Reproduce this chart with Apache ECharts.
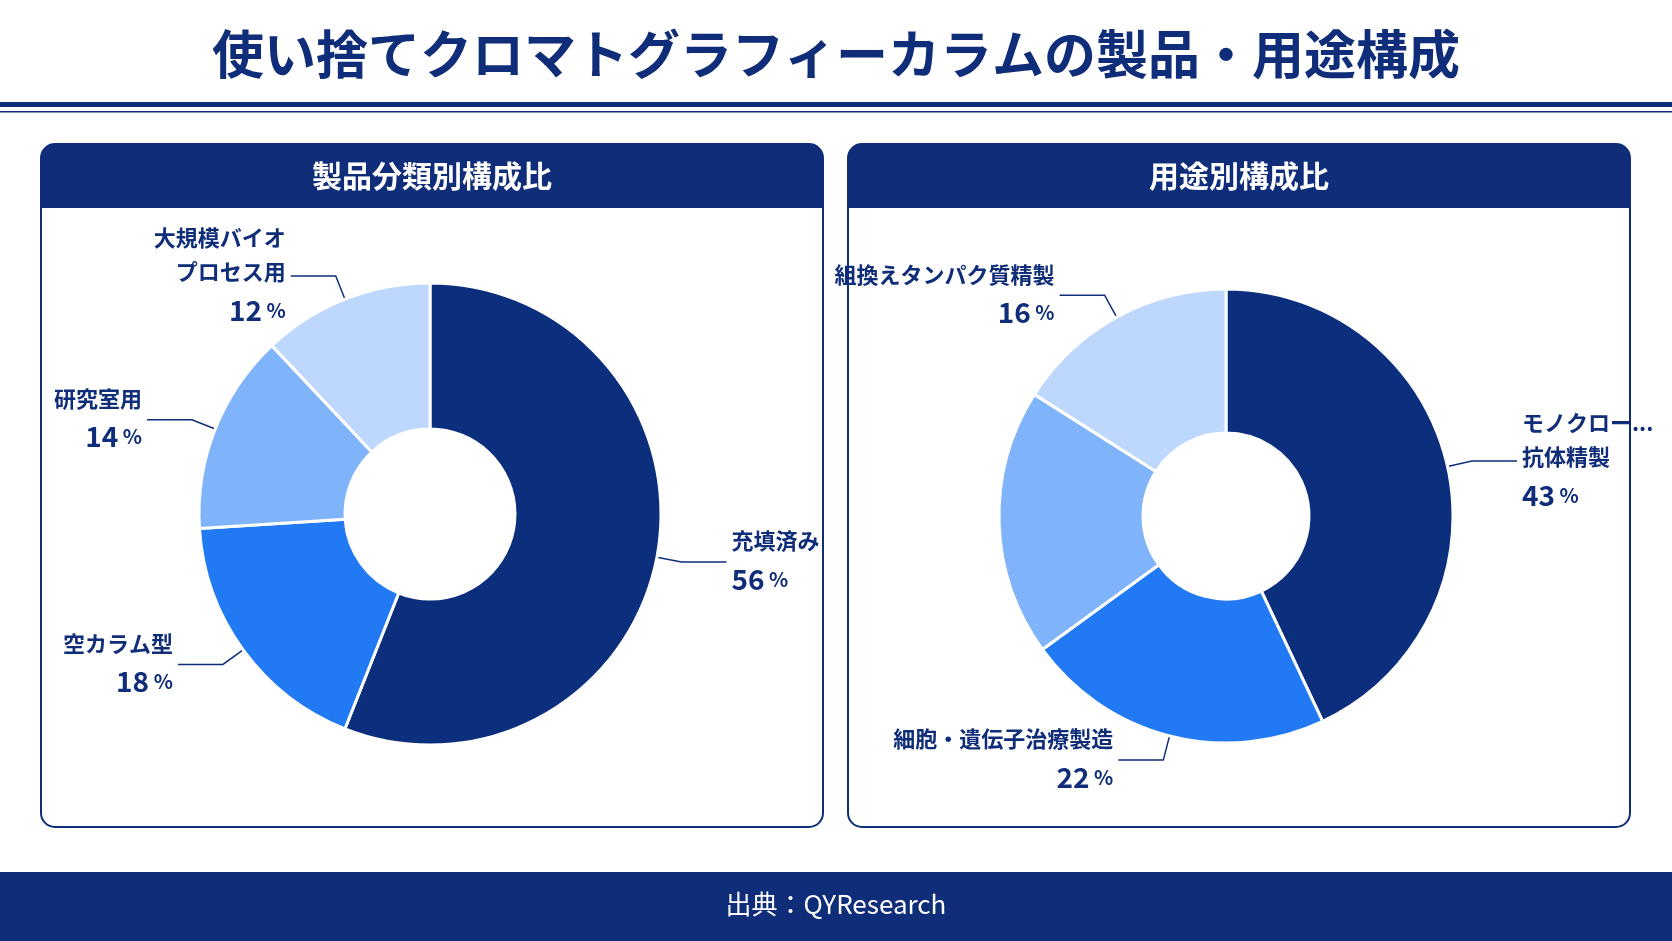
<!DOCTYPE html>
<html><head><meta charset="utf-8">
<script src="https://cdn.jsdelivr.net/npm/echarts@6/dist/echarts.min.js"></script>
<style>html,body{margin:0;padding:0;background:#fff}#c{width:1672px;height:941px}</style>
</head><body><div id="c"></div>
<script>
var productNames = ['充填済み', '空カラム型', '研究室用', '大規模バイオ\nプロセス用'];
var productValues = [56, 18, 14, 12];
var useNames = ['モノクローナル\n抗体精製', '細胞・遺伝子治療製造', 'ワクチン製造', '組換えタンパク質精製'];
var useValues = [43, 22, 19, 16];
var colors = ['#0b2f7d', '#2179f4', '#7fb4fa', '#bdd7fd'];

var navy = '#0f2d78';
var font = '"Noto Sans CJK JP", "Noto Sans", sans-serif';

function makeData(names, values) {
	var out = [];
	for (var i = 0; i < names.length; i++) out.push({name: names[i], value: values[i], itemStyle: {color: colors[i]}});
	return out;
}

function pieSeries(names, values, center, radius) {
	return {
		type: 'pie',
		center: center,
		radius: radius,
		startAngle: 90,
		clockwise: true,
		silent: true,
		itemStyle: {borderColor: '#fff', borderWidth: 3},
		label: {
			formatter: function(p) { return '{n|' + p.name.replace('\n', '}\n{n|') + '}\n{p|' + p.value + '}{s| %}'; },
			rich: {
				n: {fontFamily: font, fontSize: 22, fontWeight: 'bold', color: navy, lineHeight: 34},
				p: {fontFamily: font, fontSize: 28, fontWeight: 'bold', color: navy, lineHeight: 42},
				s: {fontFamily: font, fontSize: 20, fontWeight: 'bold', color: navy, lineHeight: 42}
			},
			align: 'center'
		},
		labelLine: {length: 25, length2: 45, lineStyle: {color: navy, width: 1.5}},
		data: makeData(names, values)
	};
}

function panel(x, title) {
	return [
		{type: 'rect', shape: {x: x, y: 144, width: 782, height: 683, r: 14}, style: {fill: '#fff', stroke: navy, lineWidth: 2}, z: -10},
		{type: 'rect', shape: {x: x, y: 144, width: 782, height: 64, r: [14, 14, 0, 0]}, style: {fill: navy}, z: -9},
		{type: 'text', x: x + 391, y: 176, style: {text: title, fill: '#fff', font: 'bold 30px ' + font, textAlign: 'center', textVerticalAlign: 'middle'}, z: -8}
	];
}

var chart = echarts.init(document.getElementById('c'));
chart.setOption({
	backgroundColor: '#fff',
	animation: false,
	graphic: [
		{type: 'text', x: 836, y: 54, style: {text: '使い捨てクロマトグラフィーカラムの製品・用途構成', fill: navy, font: 'bold 52px ' + font, textAlign: 'center', textVerticalAlign: 'middle'}},
		{type: 'rect', shape: {x: 0, y: 102, width: 1672, height: 5}, style: {fill: navy}},
		{type: 'rect', shape: {x: 0, y: 111, width: 1672, height: 1.5}, style: {fill: navy}},
		{type: 'rect', shape: {x: 0, y: 872, width: 1672, height: 69}, style: {fill: navy}},
		{type: 'text', x: 836, y: 904, style: {text: '出典：QYResearch', fill: '#fff', font: '26px ' + font, textAlign: 'center', textVerticalAlign: 'middle'}}
	].concat(panel(41, '製品分類別構成比')).concat(panel(848, '用途別構成比')),
	series: [
		pieSeries(productNames, productValues, [430, 514], [85, 231]),
		pieSeries(useNames, useValues, [1226, 516], [83, 227])
	]
});
</script>
</body></html>
